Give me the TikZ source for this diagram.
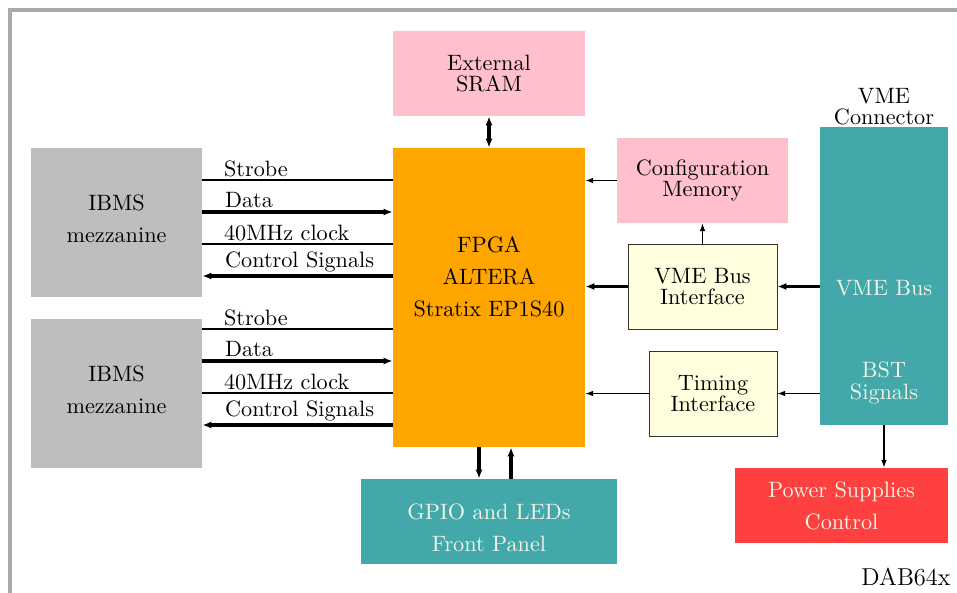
\documentclass[tikz,border=0pt]{standalone}
\usetikzlibrary{arrows.meta}
\tikzset{%%
  >={Latex[length=4pt,width=3.2pt]},
  blk/.style={inner sep=0pt, align=center},
  sigLine/.style={line width=0.5pt},
  sigIn/.style={->, line width=1.4pt},
  sigOut/.style={<-, line width=1.4pt},
  thin/.style={->, line width=0.5pt, >={Latex[length=3.5pt,width=2.6pt]}},
  thick/.style={->, line width=1.4pt},
  sigLabel/.style={anchor=south west, inner sep=1pt, xshift=8.5pt}
  }
\definecolor{ibmsGray}{RGB}{190,190,190}
\definecolor{fpgaOrange}{RGB}{255,165,0}
\definecolor{memPink}{RGB}{255,192,203}
\definecolor{vmeTeal}{RGB}{66,168,169}
\definecolor{psRed}{RGB}{255,64,64}
\definecolor{ifYellow}{RGB}{255,255,224}
\definecolor{frameGray}{RGB}{170,170,170}
\definecolor{softWhite}{RGB}{244,244,232}

\begin{document}
\begin{tikzpicture}[x=0.45pt, y=-0.45pt]
  \useasboundingbox (0,0) rectangle (957,593);
  \draw[frameGray, line width=1.4pt] (10,10) rectangle (980,620);
  % main blocks
  \node[blk, fill=memPink, minimum width=86.4pt, minimum height=38.25pt] (sram) at (489,73.5) {External\\[-2.5pt]SRAM};
  \node[blk, fill=fpgaOrange, minimum width=86.4pt, minimum height=134.55pt] (fpga) at (489,297.5) {};
  \node[blk] (fpgatxt) at (489,277) {FPGA\\[2.4pt]ALTERA\\[2.4pt]Stratix EP1S40};
  \node[blk, fill=ibmsGray, minimum width=76.95pt, minimum height=67.05pt] (ibms1) at (116.5,222.5) {};
  \node[blk] (ibms1txt) at (116.5,219) {IBMS\\[2.4pt]mezzanine};
  \node[blk, fill=ibmsGray, minimum width=76.95pt, minimum height=67.05pt] (ibms2) at (116.5,393.5) {};
  \node[blk] (ibms2txt) at (116.5,390) {IBMS\\[2.4pt]mezzanine};
  \node[blk, fill=memPink, minimum width=76.95pt, minimum height=38.25pt] (cfg) at (702.5,180.5) {Configuration\\[-2.5pt]Memory};
  \node[blk, draw=black!80, fill=ifYellow, minimum width=67.05pt, minimum height=38.25pt] (vmeif) at (702.5,286.5) {VME Bus\\[-2.5pt]Interface};
  \node[blk, draw=black!80, fill=ifYellow, minimum width=57.6pt, minimum height=38.25pt] (timing) at (713,393.5) {Timing\\[-2.5pt]Interface};
  \node[blk, fill=vmeTeal, minimum width=57.6pt, minimum height=134.1pt] (vme) at (884,276) {};
  \node[blk, text=softWhite] (vmebus) at (884,288) {VME Bus};
  \node[blk, text=softWhite] (bst) at (884,383) {BST\\[-2.5pt]Signals};
  \node[blk] (vmelabel) at (884,106.5) {VME\\[-2.5pt]Connector};
  \node[blk, fill=psRed, minimum width=95.85pt, minimum height=33.75pt] (psu) at (841.5,505.5) {};
  \node[blk, text=softWhite] (psutxt) at (841.5,505.5) {Power Supplies\\[2.4pt]Control};
  \node[blk, fill=vmeTeal, minimum width=115.2pt, minimum height=38.25pt] (gpio) at (489,521.5) {};
  \node[blk, text=softWhite] (gpiotxt) at (489,528) {GPIO and LEDs\\[2.4pt]Front Panel};
  \node[anchor=east, inner sep=0pt, font=\fontsize{11}{13}\selectfont] (board) at (951,577) {DAB64x};

  % mezzanine links
  \foreach \y/\sig/\kind in {180/Strobe/sigLine, 212/Data/sigIn, 244/40MHz clock/sigLine, 276/Control Signals/sigOut}
    \draw[\kind] (ibms1.east |- 0,\y) -- (fpga.west |- 0,\y) node[sigLabel, pos=0] {\sig};
  \foreach \y/\sig/\kind in {329/Strobe/sigLine, 361/Data/sigIn, 393/40MHz clock/sigLine, 425/Control Signals/sigOut}
    \draw[\kind] (ibms2.east |- 0,\y) -- (fpga.west |- 0,\y) node[sigLabel, pos=0] {\sig};

  % other links
  \draw[thick, <->] (sram) -- (fpga);
  \draw[thin] (cfg) -- (cfg -| fpga.east);
  \draw[thin] (vmeif) -- (cfg);
  \draw[thick] (vmeif) -- (vmeif -| fpga.east);
  \draw[thick] (vmeif -| vme.west) -- (vmeif);
  \draw[thin] (timing -| vme.west) -- (timing);
  \draw[thin] (timing) -- (timing -| fpga.east);
  \draw[thin] (vme) -- (vme |- psu.north);
  \draw[thick] (fpga.south -| 479,0) -- (gpio.north -| 479,0);
  \draw[thick] (gpio.north -| 511,0) -- (fpga.south -| 511,0);
\end{tikzpicture}
\end{document}
